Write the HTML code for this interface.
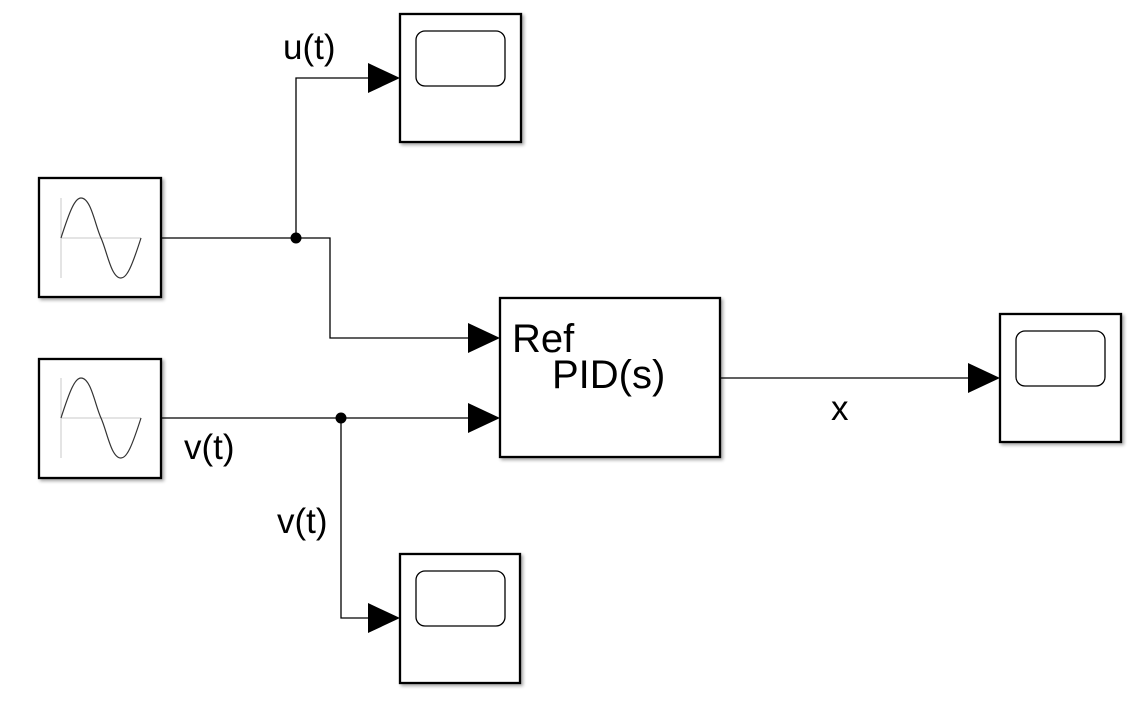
<!DOCTYPE html>
<html><head><style>
html,body{margin:0;padding:0;background:#fff;}
svg{display:block;}
text{font-family:"Liberation Sans",Arial,sans-serif;fill:#000;}
</style></head><body>
<svg width="1138" height="707" viewBox="0 0 1138 707" xmlns="http://www.w3.org/2000/svg">
<defs>
<filter id="sh" x="-10%" y="-10%" width="130%" height="130%">
<feDropShadow dx="2" dy="2" stdDeviation="1.5" flood-color="#000" flood-opacity="0.35"/>
</filter>
</defs>
<g fill="#fff" stroke="#000" stroke-width="2.3" filter="url(#sh)">
<rect x="39" y="178" width="122" height="119"/>
<rect x="39" y="359" width="122" height="119"/>
<rect x="500" y="298" width="220" height="159"/>
<rect x="400" y="14" width="121" height="128"/>
<rect x="400" y="554" width="120" height="129"/>
<rect x="1000" y="314" width="121" height="128"/>
</g>
<g fill="none" stroke="#000" stroke-width="1.3">
<rect x="416" y="31" width="89" height="55" rx="9"/>
<rect x="416" y="571" width="89" height="55" rx="9"/>
<rect x="1016" y="331" width="89" height="55" rx="9"/>
</g>
<g fill="none" stroke="#c8c8c8" stroke-width="1">
<line x1="61" y1="238" x2="141" y2="238"/><line x1="61" y1="198" x2="61" y2="278"/>
<line x1="61" y1="418" x2="141" y2="418"/><line x1="61" y1="378" x2="61" y2="458"/>
</g>
<g fill="none" stroke="#333" stroke-width="1.2">
<path d="M61 238 C70 210,75 198,81 198 C91 198,95 225,101 238 C107 251,111 278,121 278 C127 278,132 266,141 238"/>
<path d="M61 418 C70 390,75 378,81 378 C91 378,95 405,101 418 C107 431,111 458,121 458 C127 458,132 446,141 418"/>
</g>
<g fill="none" stroke="#000" stroke-width="1.3">
<path d="M161 238 H330 V338 H470"/>
<path d="M296 238 V78 H370"/>
<path d="M161 418 H470"/>
<path d="M341 418 V618 H370"/>
<path d="M720 378 H970"/>
</g>
<circle cx="296" cy="238" r="5.5"/>
<circle cx="341" cy="418" r="5.5"/>
<g fill="#000">
<polygon points="368,63 400,78 368,93"/>
<polygon points="368,603 400,618 368,633"/>
<polygon points="468,323 500,338 468,353"/>
<polygon points="468,403 500,418 468,433"/>
<polygon points="968,363 1000,378 968,393"/>
</g>
<text x="283" y="59" font-size="35">u(t)</text>
<text x="184" y="459" font-size="35">v(t)</text>
<text x="277" y="533" font-size="35">v(t)</text>
<text x="831" y="420" font-size="35">x</text>
<text x="512" y="352" font-size="40">Ref</text>
<text x="552" y="388" font-size="40">PID(s)</text>
</svg>
</body></html>
